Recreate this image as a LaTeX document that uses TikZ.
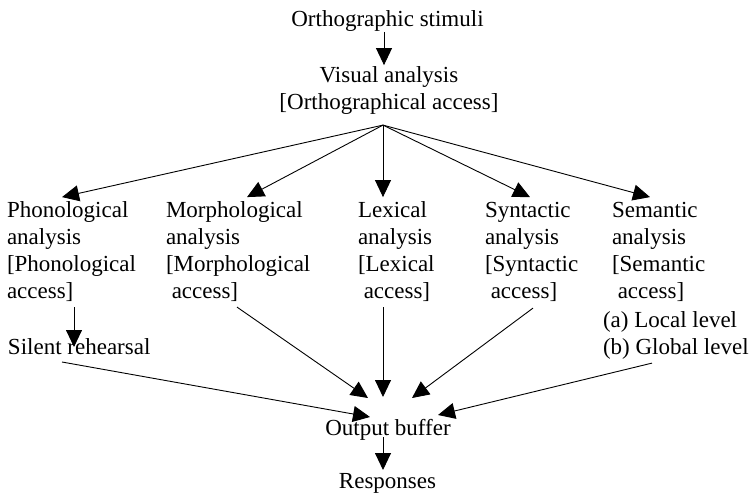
\documentclass[tikz,border=0pt]{standalone}
\usepackage{fontspec}
\setmainfont{Liberation Serif}
\usetikzlibrary{arrows.meta}
\begin{document}
\begin{tikzpicture}[x=1pt,y=-1pt,
  every node/.style={inner sep=0pt, outer sep=0pt, font=\fontsize{23}{27}\selectfont},
  col/.style={anchor=north west, align=left},
  arr/.style={draw=black, line width=0.9pt, -{Triangle[length=17pt,width=16pt]}}]
\useasboundingbox (0,0) rectangle (754,495);
% nodes
\node[anchor=base] (stim) at (387.5,27) {Orthographic stimuli};
\node[anchor=north, align=center] (vis) at (389,63.1) {\strut Visual analysis\\{[}Orthographical access{]}\strut};
\node[col] (phon) at (7,198.1) {\strut Phonological\\analysis\\{[}Phonological\\access{]}\strut};
\node[col] (morph) at (166,198.1) {\strut Morphological\\analysis\\{[}Morphological\\\ access{]}\strut};
\node[col] (lex) at (358,198.1) {\strut Lexical\\analysis\\{[}Lexical\\\ access{]}\strut};
\node[col] (synt) at (485,198.1) {\strut Syntactic\\analysis\\{[}Syntactic\\\ access{]}\strut};
\node[col] (sem) at (612,198.1) {\strut Semantic\\analysis\\{[}Semantic\\\ access{]}\strut};
\node[col] (levels) at (603,308.1) {\strut(a) Local level\\(b) Global level\strut};
\node[anchor=base west] (silent) at (8,354) {Silent rehearsal};
\node[anchor=base] (outbuf) at (388,435) {Output buffer};
\node[anchor=base] (resp) at (387.5,488) {Responses};
\coordinate (apex) at ([xshift=-6pt,yshift=-8pt]vis.south);
% connectors
\draw[arr] ([xshift=-3.5pt]stim.south) -- ([xshift=-5pt,yshift=-2pt]vis.north);
\draw[arr] (apex) -- ([xshift=55pt,yshift=1pt]phon.north west);
\draw[arr] (apex) -- ([xshift=81pt,yshift=1pt]morph.north west);
\draw[arr] (apex) -- ([xshift=25pt,yshift=1pt]lex.north west);
\draw[arr] (apex) -- ([xshift=45pt,yshift=1pt]synt.north west);
\draw[arr] (apex) -- ([xshift=38pt,yshift=1pt]sem.north west);
\draw[arr] ([xshift=67pt,yshift=-1pt]phon.south west) -- ([xshift=66pt,yshift=7pt]silent.base west);
\draw[arr] ([xshift=54pt,yshift=-8pt]silent.base west) -- ([xshift=-18pt,yshift=18pt]outbuf.base);
\draw[arr] ([xshift=71pt,yshift=-1pt]morph.south west) -- ([xshift=-20pt,yshift=37pt]outbuf.base);
\draw[arr] ([xshift=25pt,yshift=-1pt]lex.south west) -- ([xshift=-5pt,yshift=38pt]outbuf.base);
\draw[arr] ([xshift=48pt,yshift=-2pt]synt.south west) -- ([xshift=24pt,yshift=37pt]outbuf.base);
\draw[arr] ([xshift=49pt,yshift=-1pt]levels.south west) -- ([xshift=50pt,yshift=20pt]outbuf.base);
\draw[arr] ([xshift=-5pt,yshift=-2pt]outbuf.base) -- ([xshift=-4.5pt,yshift=18pt]resp.base);
\end{tikzpicture}
\end{document}
